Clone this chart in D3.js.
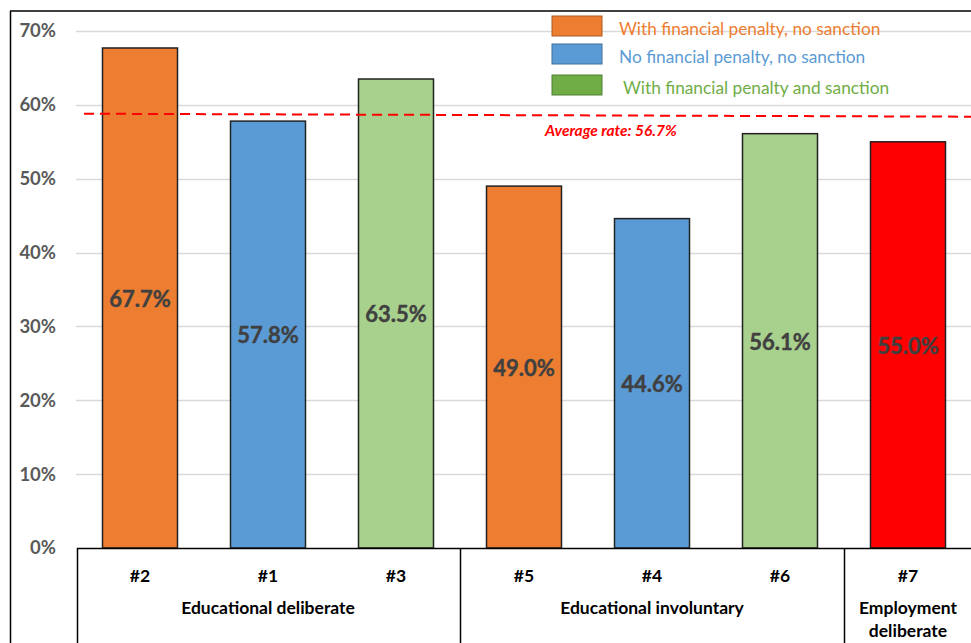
<html>
<head>
  <style>
    body { margin: 0; background: #fff; font-family: Lato, "Open Sans", sans-serif; }
    .ytick { font-size: 18.5px; font-weight: bold; fill: #595959; }
    .barlabel { font-size: 22px; font-weight: bold; fill: #404040; stroke: #404040; stroke-width: 0.4px; }
    .cat { font-size: 17.5px; font-weight: bold; fill: #000; }
    .legtext { font-size: 17.3px; }
  </style>
</head>
<body>
  <div class="chart"></div>
  <script src="https://cdn.jsdelivr.net/npm/d3@7"></script>
  <script>
    // data
    let ids = ["#2", "#1", "#3", "#5", "#4", "#6", "#7"];
    let rates = [67.7, 57.8, 63.5, 49.0, 44.6, 56.1, 55.0];
    let barKinds = ["penalty", "none", "sanction", "penalty", "none", "sanction", "employment"];
    let groups = [
      { name: ["Educational deliberate"], from: 0, to: 2 },
      { name: ["Educational involuntary"], from: 3, to: 5 },
      { name: ["Employment", "deliberate"], from: 6, to: 6 }
    ];
    let yTicks = [0, 10, 20, 30, 40, 50, 60, 70];
    let averageRate = 56.7;
    // the dashed line is drawn slightly tilted in the source
    let avgLineEnds = [58.8, 58.4];
    let legendLabels = ["With financial penalty, no sanction", "No financial penalty, no sanction", "With financial penalty and sanction"];
    let legendKinds = ["penalty", "none", "sanction"];

    let fills = { penalty: "#ED7D31", none: "#5B9BD5", sanction: "#A9D18E", employment: "#FF0000" };
    let legendFills = { penalty: "#ED7D31", none: "#5B9BD5", sanction: "#70AD47" };
    let legendStroke = { penalty: "#AE5A21", none: "#41719C", sanction: "#507E32" };

    let W = 971, H = 643;
    let margin = { left: 76, top: 31 };
    let plotBottom = 548;

    let svg = d3.select(".chart").append("svg")
      .attr("width", W).attr("height", H);

    let x = d3.scaleBand()
      .domain(ids)
      .range([margin.left, margin.left + 128 * ids.length])
      .paddingInner(53 / 128)
      .paddingOuter(53 / 256);

    let y = d3.scaleLinear()
      .domain([0, 70])
      .range([plotBottom, margin.top]);

    // outer frame (cropped on the right)
    svg.append("line").attr("x1", 10).attr("x2", W).attr("y1", 11).attr("y2", 11)
      .attr("stroke", "#000").attr("stroke-width", 1.5);
    svg.append("line").attr("x1", 10.5).attr("x2", 10.5).attr("y1", 11).attr("y2", H)
      .attr("stroke", "#000").attr("stroke-width", 1.5);

    // gridlines
    svg.append("g").selectAll("line")
      .data(yTicks.filter(d => d > 0))
      .enter().append("line")
      .attr("x1", margin.left).attr("x2", W)
      .attr("y1", d => Math.round(y(d)) + 0.5).attr("y2", d => Math.round(y(d)) + 0.5)
      .attr("stroke", "#d9d9d9").attr("stroke-width", 1.5);

    // y tick labels
    svg.append("g").selectAll("text")
      .data(yTicks)
      .enter().append("text")
      .attr("class", "ytick")
      .attr("x", 56)
      .attr("y", d => y(d))
      .attr("dy", "0.35em")
      .attr("text-anchor", "end")
      .text(d => d + "%");

    // bars
    svg.append("g").selectAll("rect")
      .data(rates)
      .enter().append("rect")
      .attr("x", (d, i) => x(ids[i]))
      .attr("y", d => y(d))
      .attr("width", x.bandwidth())
      .attr("height", d => plotBottom - y(d))
      .attr("fill", (d, i) => fills[barKinds[i]])
      .attr("stroke", "#222")
      .attr("stroke-width", 1.5);

    // bar value labels
    svg.append("g").selectAll("text")
      .data(rates)
      .enter().append("text")
      .attr("class", "barlabel")
      .attr("x", (d, i) => x(ids[i]) + x.bandwidth() / 2)
      .attr("y", d => (y(d) + plotBottom) / 2 + 1)
      .attr("dy", "0.35em")
      .attr("text-anchor", "middle")
      .text(d => d.toFixed(1) + "%");

    // average line
    svg.append("line")
      .attr("x1", 84).attr("x2", W)
      .attr("y1", y(avgLineEnds[0])).attr("y2", y(avgLineEnds[1]))
      .attr("stroke", "#FF0000").attr("stroke-width", 2)
      .attr("stroke-dasharray", "10,6");
    svg.append("text")
      .attr("x", 545).attr("y", 136)
      .attr("fill", "#FF0000")
      .style("font-size", "15.5px").style("font-weight", "bold").style("font-style", "italic")
      .text("Average rate: " + averageRate.toFixed(1) + "%");

    // category axis box
    let catLeft = margin.left + 1;
    svg.append("line").attr("x1", catLeft).attr("x2", W).attr("y1", plotBottom + 0.5).attr("y2", plotBottom + 0.5)
      .attr("stroke", "#000").attr("stroke-width", 1.5);
    let bandStart = i => margin.left + 128 * i;
    let dividers = [catLeft].concat(groups.slice(0, -1).map(g => bandStart(g.to + 1)));
    svg.append("g").selectAll("line")
      .data(dividers)
      .enter().append("line")
      .attr("x1", d => d + 0.5).attr("x2", d => d + 0.5)
      .attr("y1", plotBottom).attr("y2", H)
      .attr("stroke", "#000").attr("stroke-width", 1.5);

    svg.append("g").selectAll("text")
      .data(ids)
      .enter().append("text")
      .attr("class", "cat")
      .attr("x", d => x(d) + x.bandwidth() / 2)
      .attr("y", 582)
      .attr("text-anchor", "middle")
      .text(d => d);

    groups.forEach(g => {
      let cx = (x(ids[g.from]) + x(ids[g.to]) + x.bandwidth()) / 2;
      g.name.forEach((line, k) => {
        svg.append("text")
          .attr("class", "cat")
          .attr("x", cx)
          .attr("y", 614 + k * 23)
          .attr("text-anchor", "middle")
          .text(line);
      });
    });

    // legend
    let leg = svg.append("g");
    let legY = [26, 54, 85];
    legendLabels.forEach((label, i) => {
      let kind = legendKinds[i];
      leg.append("rect")
        .attr("x", 552).attr("y", legY[i] - 10)
        .attr("width", 50).attr("height", 20)
        .attr("fill", legendFills[kind])
        .attr("stroke", legendStroke[kind]).attr("stroke-width", 1);
      leg.append("text")
        .attr("class", "legtext")
        .attr("x", i === 2 ? 623 : 619)
        .attr("y", legY[i] + 4)
        .attr("dy", "0.3em")
        .attr("fill", legendFills[kind])
        .text(label);
    });
  </script>
</body>
</html>
